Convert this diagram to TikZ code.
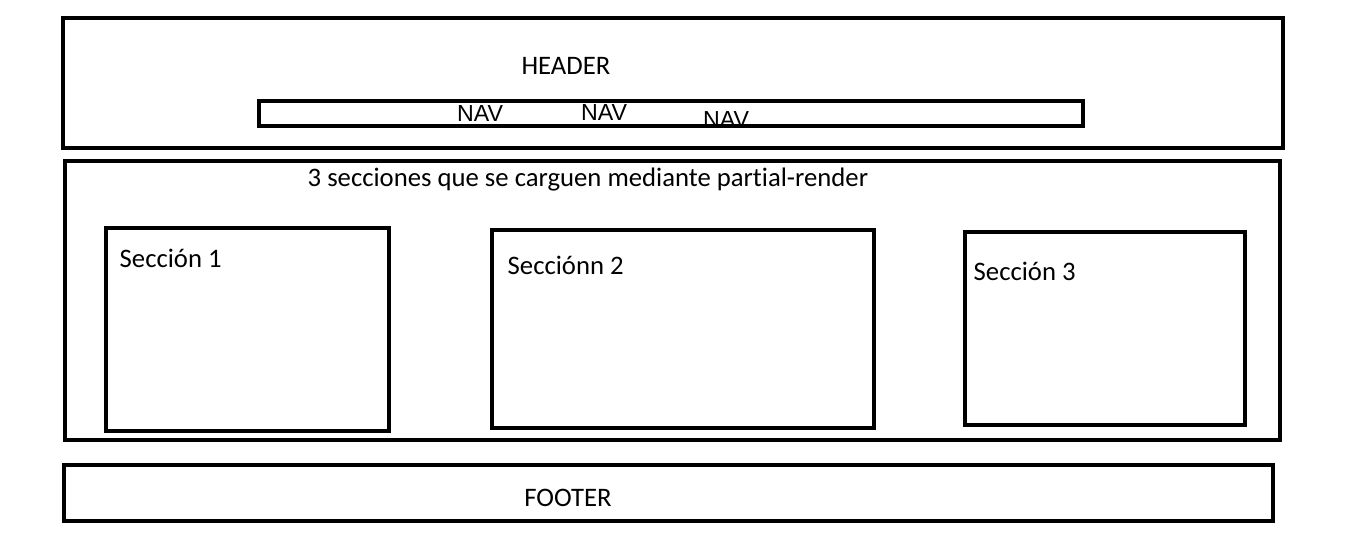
\documentclass[tikz,border=0pt]{standalone}
\usepackage{fontspec}
\setmainfont{Carlito}[Ligatures={NoCommon,NoRare}]
\newfontfamily\navfont{Liberation Sans}
\usepackage{tikz}
\usetikzlibrary{positioning}

\begin{document}
\begin{tikzpicture}[x=0.02cm, y=-0.02cm, thick,
    box/.style = {draw, line width=2.8pt},
    bar/.style = {draw, line width=2.3pt},
    lbl/.style = {inner sep=0pt, font=\fontsize{15.2}{18}\selectfont},
    nav/.style = {inner sep=0pt, font=\navfont\fontsize{13.2}{16}\selectfont},
    sec/.style = {lbl, anchor=west}]
            \useasboundingbox (0,0) rectangle (1347,541);
            % Header
            \draw[box] (63,18) rectangle (1283,148);
            \node[lbl] (header) at (566,66) {HEADER};
            \node[nav] (nav1) at (480,114) {NAV};
            \node[nav] (nav2) at (604,113) {NAV};
            \node[nav] (nav3) at (726,120) {NAV};
            \draw[bar] (259,101) rectangle (1083,126);
            % Main
            \draw[box] (65,161) rectangle (1280,440);
            \node[sec] (title) at (307,180) {3 secciones que se carguen mediante partial-render};
            \draw[box] (106,228) rectangle (389,431);
            \node[sec] (s1) at (119,258) {Sección 1};
            \draw[box] (492,230) rectangle (874,428);
            \node[sec] (s2) at (507,265) {Secciónn 2};
            \draw[box] (965,232) rectangle (1245,425);
            \node[sec] (s3) at (973,271) {Sección 3};
            % Footer
            \draw[box] (64,465) rectangle (1273,521);
            \node[lbl] (footer) at (568,498) {FOOTER};
\end{tikzpicture}
\end{document}
